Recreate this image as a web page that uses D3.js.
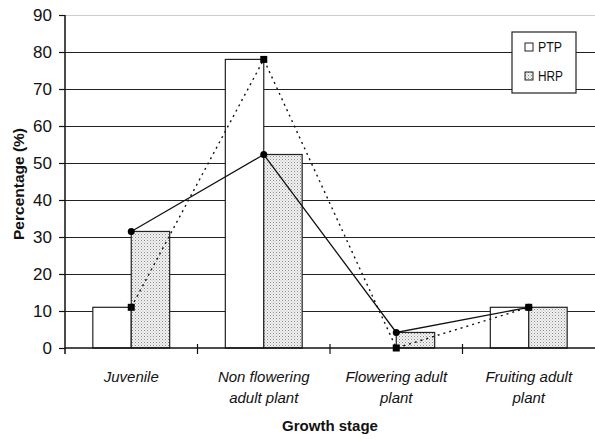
<!DOCTYPE html>
<html><head><meta charset="utf-8">
<script src="https://cdn.jsdelivr.net/npm/d3@7"></script>
<style>body{margin:0;background:#fff}svg{display:block;font-family:"Liberation Sans",Arial,sans-serif}</style>
</head><body><svg id="c" width="595" height="439"></svg>
<script>
const categories = [["Juvenile"],["Non flowering","adult plant"],["Flowering adult","plant"],["Fruiting adult","plant"]];
const seriesNames = ["PTP","HRP"];
const ptp = [11, 78, 0, 11];
const hrp = [31.5, 52.3, 4.2, 11];
const yTicks = [0,10,20,30,40,50,60,70,80,90];

(function(){
const svg = d3.select("#c");
const mL = 65, mR = 595, mT = 15, mB = 348;
const x = d3.scaleBand().domain(d3.range(categories.length)).range([mL, mR]);
const y = d3.scaleLinear().domain([0, 90]).range([mB, mT]);
const barW = x.bandwidth() * 0.29;

const defs = svg.append("defs");
const pat = defs.append("pattern").attr("id","dots").attr("width",3).attr("height",3).attr("patternUnits","userSpaceOnUse");
pat.append("rect").attr("width",3).attr("height",3).attr("fill","#f2f2f2");
pat.append("rect").attr("x",0).attr("y",0).attr("width",1).attr("height",1).attr("fill","#8a8a8a");
pat.append("rect").attr("x",1.5).attr("y",1.5).attr("width",1).attr("height",1).attr("fill","#b0b0b0");

svg.append("g").selectAll("line").data(yTicks.filter(d => d > 0)).join("line")
  .attr("x1", mL).attr("x2", mR).attr("y1", d => y(d)).attr("y2", d => y(d))
  .attr("stroke", d => d === 90 ? "#cccccc" : "#222").attr("stroke-width", 1).attr("shape-rendering","crispEdges");

const cx = i => x(i) + x.bandwidth() / 2;
svg.append("g").selectAll("rect").data(ptp).join("rect")
  .attr("x", (d,i) => cx(i) - barW).attr("width", barW)
  .attr("y", d => y(d)).attr("height", d => mB - y(d))
  .attr("fill", "#fff").attr("stroke", "#222").attr("stroke-width", 1.2);
svg.append("g").selectAll("rect").data(hrp).join("rect")
  .attr("x", (d,i) => cx(i)).attr("width", barW)
  .attr("y", d => y(d)).attr("height", d => mB - y(d))
  .attr("fill", "url(#dots)").attr("stroke", "#222").attr("stroke-width", 1.2);

const yAxis = d3.axisLeft(y).tickValues(yTicks).tickSize(6).tickPadding(7);
const gy = svg.append("g").attr("transform", `translate(${mL},0)`).call(yAxis);
gy.select(".domain").remove();
gy.selectAll(".tick line").attr("stroke","#111").attr("stroke-width",1.2);
gy.selectAll("text").attr("font-size", 17).attr("fill","#111").attr("font-family","Liberation Sans, Arial, sans-serif");
svg.append("line").attr("x1", mL).attr("x2", mL).attr("y1", mT).attr("y2", mB + 6).attr("stroke","#111").attr("stroke-width",1.5);
svg.append("line").attr("x1", mL).attr("x2", mR).attr("y1", mB).attr("y2", mB).attr("stroke","#111").attr("stroke-width",1.5);
svg.append("g").selectAll("line").data(d3.range(1, categories.length)).join("line")
  .attr("x1", i => x(i)).attr("x2", i => x(i)).attr("y1", mB - 4).attr("y2", mB + 6)
  .attr("stroke","#111").attr("stroke-width",1.2);

const cl = svg.append("g").selectAll("text").data(categories).join("text")
  .attr("text-anchor","middle").attr("font-size", 15).attr("font-style","italic").attr("fill","#111");
cl.each(function(lines, i) {
  d3.select(this).selectAll("tspan").data(lines).join("tspan")
    .attr("x", cx(i)).attr("y", (d, j) => 382 + j * 21).text(d => d);
});

const line = d3.line().x((d,i) => cx(i)).y(d => y(d));
svg.append("path").datum(ptp).attr("d", line).attr("fill","none").attr("stroke","#111").attr("stroke-width",1.4).attr("stroke-dasharray","2,4");
svg.append("path").datum(hrp).attr("d", line).attr("fill","none").attr("stroke","#111").attr("stroke-width",1.3);
svg.append("g").selectAll("rect").data(ptp).join("rect")
  .attr("x", (d,i) => cx(i) - 3.5).attr("y", d => y(d) - 3.5).attr("width", 7).attr("height", 7).attr("fill","#000");
svg.append("g").selectAll("circle").data(hrp).join("circle")
  .attr("cx", (d,i) => cx(i)).attr("cy", d => y(d)).attr("r", 3.5).attr("fill","#000");

svg.append("text").attr("transform","translate(24,184) rotate(-90)").attr("text-anchor","middle")
  .attr("font-size",15.5).attr("font-weight","bold").attr("fill","#111").text("Percentage (%)");
svg.append("text").attr("x",330).attr("y",431).attr("text-anchor","middle")
  .attr("font-size",15).attr("font-weight","bold").attr("fill","#111").text("Growth stage");

const lg = svg.append("g");
lg.append("rect").attr("x",512).attr("y",32).attr("width",64).attr("height",61).attr("fill","#fff").attr("stroke","#222").attr("stroke-width",1.2);
const fills = ["#fff","url(#dots)"];
seriesNames.forEach((n, i) => {
  lg.append("rect").attr("x",525).attr("y",43 + i*29).attr("width",8).attr("height",8).attr("fill",fills[i]).attr("stroke","#222").attr("stroke-width",1);
  lg.append("text").attr("x",538).attr("y",52 + i*29).attr("font-size",14).attr("fill","#111").attr("textLength", i===0?24:25).attr("lengthAdjust","spacingAndGlyphs").text(n);
});
})();
</script></body></html>
